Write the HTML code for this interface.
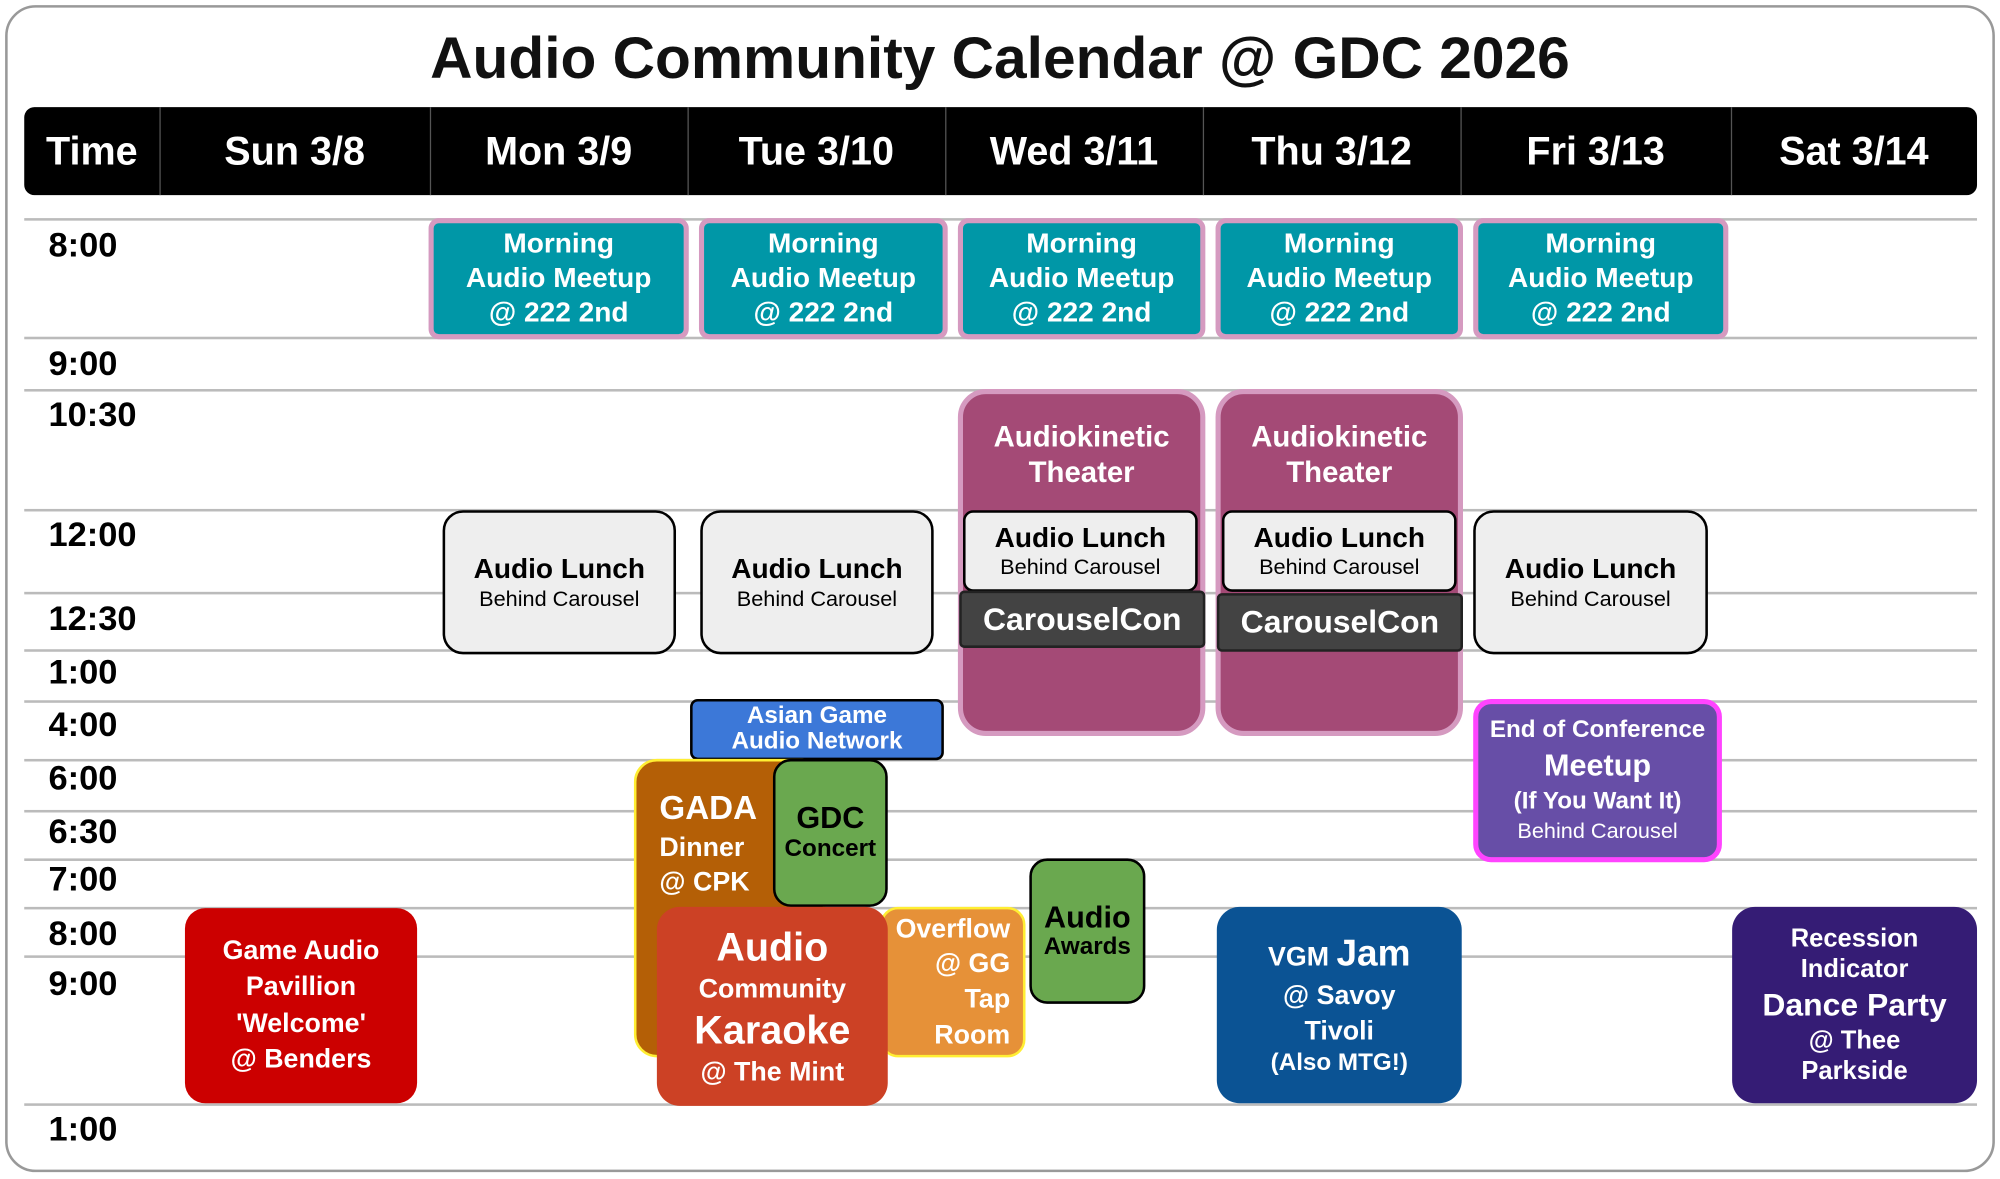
<!DOCTYPE html>
<html><head><meta charset="utf-8"><style>
html,body{margin:0;padding:0;background:#fff;}
body{width:2000px;height:1178px;overflow:hidden;position:relative;}
#s{position:absolute;left:0;top:0;width:1568px;height:924px;transform:scale(1.2755);transform-origin:0 0;font-family:"Liberation Sans",sans-serif;}
.a{position:absolute;box-sizing:border-box;}
.outer{left:4px;top:4px;width:1560px;height:915px;border:2px solid #999;border-radius:24px;}
.title{left:0;width:1568px;top:18px;text-align:center;font-weight:bold;font-size:46px;color:#111;}
.hdr{left:19px;top:84px;width:1531px;height:69px;background:#000;border-radius:8px;}
.hc{top:84px;height:69px;line-height:69px;color:#fff;font-weight:bold;font-size:31px;text-align:center;}
.vd{top:84px;height:69px;width:1px;background:#555;}
.hl{left:19px;width:1531px;height:2px;background:#bbb;}
.tl{left:38px;font-weight:bold;font-size:27px;color:#000;}
.ev{display:flex;flex-direction:column;align-items:center;justify-content:center;text-align:center;font-weight:bold;color:#fff;line-height:1.2;}
.mm{background:#0097a7;border:4px solid #d59ac0;border-radius:8px;font-size:22px;top:171px;height:95px;line-height:1.22;}
.ak{background:#a44a76;border:4px solid #d59ac0;border-radius:22px;top:305px;height:272px;justify-content:flex-start;padding-top:20px;font-size:23px;}
.lu{background:#eee;border:2px solid #000;border-radius:16px;color:#000;font-size:22px;}
.lu span{font-weight:normal;font-size:17px;}
.cc{background:#434343;border:2px solid #222;border-radius:4px;font-size:25px;}
</style></head><body><div id="s">
<div class="a outer"></div>
<div class="a title">Audio Community Calendar @ GDC 2026</div>
<div class="a hdr"></div>
<div class="a hc" style="left:19px;width:106px">Time</div>
<div class="a hc" style="left:125px;width:212px">Sun 3/8</div>
<div class="a hc" style="left:337px;width:202px">Mon 3/9</div>
<div class="a hc" style="left:539px;width:202px">Tue 3/10</div>
<div class="a hc" style="left:741px;width:202px">Wed 3/11</div>
<div class="a hc" style="left:943px;width:202px">Thu 3/12</div>
<div class="a hc" style="left:1145px;width:212px">Fri 3/13</div>
<div class="a hc" style="left:1357px;width:193px">Sat 3/14</div>
<div class="a vd" style="left:125px"></div><div class="a vd" style="left:337px"></div><div class="a vd" style="left:539px"></div><div class="a vd" style="left:741px"></div><div class="a vd" style="left:943px"></div><div class="a vd" style="left:1145px"></div><div class="a vd" style="left:1357px"></div>

<div class="a hl" style="top:171px"></div><div class="a hl" style="top:264px"></div><div class="a hl" style="top:305px"></div><div class="a hl" style="top:399px"></div><div class="a hl" style="top:464px"></div><div class="a hl" style="top:509px"></div><div class="a hl" style="top:549px"></div><div class="a hl" style="top:595px"></div><div class="a hl" style="top:635px"></div><div class="a hl" style="top:673px"></div><div class="a hl" style="top:711px"></div><div class="a hl" style="top:749px"></div><div class="a hl" style="top:865px"></div>

<div class="a tl" style="top:177px">8:00</div>
<div class="a tl" style="top:270px">9:00</div>
<div class="a tl" style="top:310px">10:30</div>
<div class="a tl" style="top:404px">12:00</div>
<div class="a tl" style="top:470px">12:30</div>
<div class="a tl" style="top:512px">1:00</div>
<div class="a tl" style="top:553px">4:00</div>
<div class="a tl" style="top:595px">6:00</div>
<div class="a tl" style="top:637px">6:30</div>
<div class="a tl" style="top:674px">7:00</div>
<div class="a tl" style="top:717px">8:00</div>
<div class="a tl" style="top:756px">9:00</div>
<div class="a tl" style="top:870px">1:00</div>

<div class="a ev mm" style="left:336px;width:204px">Morning<br>Audio Meetup<br>@ 222 2nd</div>
<div class="a ev mm" style="left:548px;width:195px">Morning<br>Audio Meetup<br>@ 222 2nd</div>
<div class="a ev mm" style="left:751px;width:194px">Morning<br>Audio Meetup<br>@ 222 2nd</div>
<div class="a ev mm" style="left:953px;width:194px">Morning<br>Audio Meetup<br>@ 222 2nd</div>
<div class="a ev mm" style="left:1155px;width:200px">Morning<br>Audio Meetup<br>@ 222 2nd</div>

<div class="a ev ak" style="left:751px;width:194px">Audiokinetic<br>Theater</div>
<div class="a ev ak" style="left:953px;width:194px">Audiokinetic<br>Theater</div>

<div class="a ev lu" style="left:347px;top:400px;width:183px;height:113px">Audio Lunch<span>Behind Carousel</span></div>
<div class="a ev lu" style="left:549px;top:400px;width:183px;height:113px">Audio Lunch<span>Behind Carousel</span></div>
<div class="a ev lu" style="left:1155px;top:400px;width:184px;height:113px">Audio Lunch<span>Behind Carousel</span></div>
<div class="a ev lu" style="left:755px;top:400px;width:184px;height:64px;border-radius:8px">Audio Lunch<span>Behind Carousel</span></div>
<div class="a ev lu" style="left:958px;top:400px;width:184px;height:64px;border-radius:8px">Audio Lunch<span>Behind Carousel</span></div>
<div class="a ev cc" style="left:752px;top:463px;width:193px;height:45px">CarouselCon</div>
<div class="a ev cc" style="left:954px;top:465px;width:193px;height:46px">CarouselCon</div>

<div class="a ev" style="left:541px;top:548px;width:199px;height:48px;background:#3c78d8;border:2px solid #000;border-radius:6px;font-size:19px;line-height:1.05">Asian Game<br>Audio Network</div>

<div class="a ev" style="left:497px;top:595px;width:150px;height:234px;background:#b45f06;border:2px solid #ffee33;border-radius:18px;align-items:flex-start;justify-content:flex-start;padding:20px 0 0 18px;text-align:left;font-size:21px;line-height:1.3"><span style="font-size:26px">GADA</span>Dinner<br>@ CPK</div>
<div class="a ev" style="left:690px;top:711px;width:114px;height:118px;background:#e69138;border:2px solid #ffee33;border-radius:14px;align-items:flex-end;padding-right:10px;text-align:right;font-size:21px;line-height:1.32">Overflow<br>@ GG<br>Tap<br>Room</div>
<div class="a ev" style="left:606px;top:595px;width:90px;height:116px;background:#6aa84f;border:2px solid #000;border-radius:14px;color:#000;font-size:19px;line-height:1.1"><span style="font-size:24px">GDC</span>Concert</div>
<div class="a ev" style="left:515px;top:711px;width:181px;height:156px;background:#cc4125;border-radius:18px;font-size:21px;line-height:1.25"><span style="font-size:31px">Audio</span>Community<span style="font-size:31px">Karaoke</span>@ The Mint</div>
<div class="a ev" style="left:807px;top:673px;width:91px;height:114px;background:#6aa84f;border:2px solid #000;border-radius:14px;color:#000;font-size:19px;line-height:1.05"><span style="font-size:24px">Audio</span>Awards</div>

<div class="a ev" style="left:145px;top:712px;width:182px;height:153px;background:#cc0000;border-radius:16px;font-size:21px;line-height:1.35">Game Audio<br>Pavillion<br>'Welcome'<br>@ Benders</div>
<div class="a ev" style="left:954px;top:711px;width:192px;height:154px;background:#0b5394;border-radius:18px;font-size:21px;line-height:1.3"><span>VGM <span style="font-size:29px">Jam</span></span>@ Savoy<br>Tivoli<br><span style="font-size:19px">(Also MTG!)</span></div>
<div class="a ev" style="left:1155px;top:548px;width:195px;height:128px;background:#674ea7;border:4px solid #ff44ff;border-radius:14px;font-size:19px;line-height:1.3">End of Conference<span style="font-size:24px">Meetup</span>(If You Want It)<span style="font-weight:normal;font-size:17px">Behind Carousel</span></div>
<div class="a ev" style="left:1358px;top:711px;width:192px;height:154px;background:#351c75;border-radius:18px;font-size:20px;line-height:1.2">Recession<br>Indicator<span style="font-size:25px;line-height:1.3">Dance Party</span>@ Thee<br>Parkside</div>
</div></body></html>
